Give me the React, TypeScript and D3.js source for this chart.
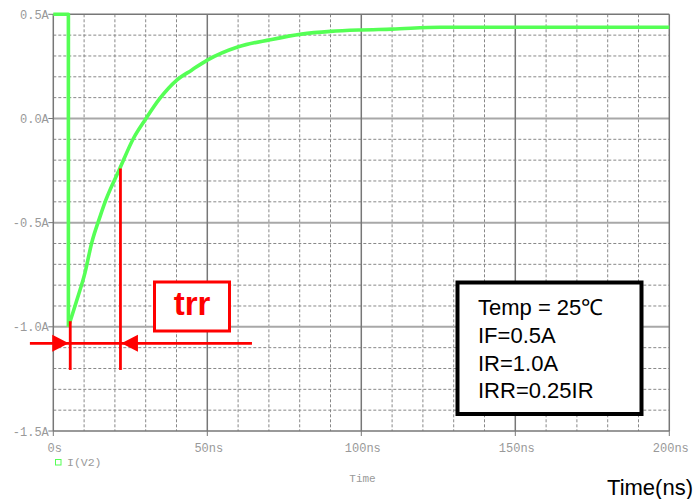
import React from "react";
import * as d3 from "d3";

// ---- Data ----
const timeNs = [0, 4.9, 4.9, 7.6, 10.3, 12.5, 15.2, 17.1, 21.6, 26, 30.1, 34.6, 40.1, 44.9, 50, 60.1, 70.4, 80.6, 90, 100, 110, 125.6, 200];
const currentA = [0.5, 0.5, -1.0, -0.874, -0.74, -0.595, -0.47, -0.39, -0.24, -0.096, 0.0, 0.096, 0.184, 0.232, 0.28, 0.344, 0.378, 0.405, 0.418, 0.425, 0.429, 0.438, 0.438];

const xTicks = [0, 50, 100, 150, 200];
const xTickLabels = ["0s", "50ns", "100ns", "150ns", "200ns"];
const yTicks = [0.5, 0.0, -0.5, -1.0, -1.5];
const yTickLabels = ["0.5A", "0.0A", "-0.5A", "-1.0A", "-1.5A"];
const xMinor = d3.range(10, 200, 10).filter((v) => v % 50 !== 0);
const yMinor = d3.range(-14, 5, 1).filter((v) => v % 5 !== 0).map((v) => v / 10);

// trr annotation (data units)
const trrStart = 5.5;
const trrEnd = 21.8;
const trrLevel = -1.079;
const trrMarkTop1 = -0.973;
const trrMarkTop2 = -0.24;
const trrMarkBottom = -1.207;
const arrowLeftFrom = -7.6;
const arrowRightFrom = 64.5;

const infoLines = ["Temp = 25\u2103", "IF=0.5A", "IR=1.0A", "IRR=0.25IR"];
const legendLabel = "I(V2)";

export default function App() {
  const x = d3.scaleLinear().domain([0, 200]).range([53.3, 669.3]);
  const y = d3.scaleLinear().domain([-1.5, 0.5]).range([431, 14.3]);
  const pts: [number, number][] = timeNs.map((t, i) => [t, currentA[i]]);
  const stepPts = pts.slice(0, 3);
  const recPts = pts.slice(2);
  const lineLin = d3
    .line<[number, number]>()
    .x((d) => x(d[0]))
    .y((d) => y(d[1]))
    .curve(d3.curveLinear);
  const lineSmooth = d3
    .line<[number, number]>()
    .x((d) => x(d[0]))
    .y((d) => y(d[1]))
    .curve(d3.curveMonotoneX);

  const mono = "'Liberation Mono', 'Courier New', monospace";
  const sans = "'Liberation Sans', Arial, sans-serif";
  const gridDark = "#777";
  const tickGray = "#999";
  const red = "#ff0000";
  const green = "#55ff55";
  const yL = y(trrLevel);

  return (
    <svg width={700} height={499} style={{ position: "absolute", left: 0, top: 0, background: "#fff" }}>
      {/* minor dashed grid */}
      {xMinor.map((v) => (
        <line key={"xm" + v} x1={x(v)} x2={x(v)} y1={y(0.5)} y2={y(-1.5)} stroke="#888" strokeWidth={1} strokeDasharray="3,2" />
      ))}
      {yMinor.map((v) => (
        <line key={"ym" + v} x1={x(0)} x2={x(200)} y1={y(v)} y2={y(v)} stroke="#888" strokeWidth={1} strokeDasharray="3,2" />
      ))}
      {/* major horizontal lines */}
      {[0, -0.5, -1.0].map((v) => (
        <line key={"ymaj" + v} x1={x(0)} x2={x(200)} y1={y(v)} y2={y(v)} stroke="#a8a8a8" strokeWidth={2} />
      ))}
      {/* major vertical lines */}
      {[50, 100, 150].map((v) => (
        <line key={"xmaj" + v} x1={x(v)} x2={x(v)} y1={y(0.5)} y2={y(-1.5)} stroke={gridDark} strokeWidth={1.5} />
      ))}
      {/* frame */}
      <line x1={x(0)} x2={x(200)} y1={y(0.5)} y2={y(0.5)} stroke={gridDark} strokeWidth={1.5} />
      <line x1={x(200)} x2={x(200)} y1={y(0.5)} y2={y(-1.5)} stroke={gridDark} strokeWidth={1.5} />
      <line x1={x(0)} x2={x(200)} y1={y(-1.5)} y2={y(-1.5)} stroke={gridDark} strokeWidth={1.5} />
      <line x1={x(0)} x2={x(0)} y1={y(0.5)} y2={y(-1.5)} stroke={gridDark} strokeWidth={1.5} />

      {/* ticks */}
      {yTicks.map((v, i) => (
        <g key={"yt" + v}>
          <line x1={x(0) - 5} x2={x(0)} y1={y(v)} y2={y(v)} stroke={gridDark} strokeWidth={1} />
          <text x={x(0) - 4.5} y={y(v) + 4.5} textAnchor="end" fontFamily={mono} fontSize={12} fill={tickGray}>
            {yTickLabels[i]}
          </text>
        </g>
      ))}
      {xTicks.map((v, i) => (
        <g key={"xt" + v}>
          <line x1={x(v)} x2={x(v)} y1={y(-1.5)} y2={y(-1.5) + 5} stroke={gridDark} strokeWidth={1} />
          <text x={x(v) + 1.5} y={451.5} textAnchor="middle" fontFamily={mono} fontSize={12} fill={tickGray}>
            {xTickLabels[i]}
          </text>
        </g>
      ))}
      <text x={362.5} y={482} textAnchor="middle" fontFamily={mono} fontSize={11} fill={tickGray}>
        Time
      </text>

      {/* legend */}
      <rect x={55.5} y={459.5} width={5.5} height={5.5} fill="none" stroke={green} strokeWidth={1} />
      <text x={67} y={466} fontFamily={mono} fontSize={11.5} fill={tickGray}>
        {legendLabel}
      </text>

      {/* curve */}
      <path d={lineLin(stepPts) || ""} fill="none" stroke={green} strokeWidth={3.6} strokeLinejoin="round" />
      <path d={lineSmooth(recPts) || ""} fill="none" stroke={green} strokeWidth={3.6} strokeLinejoin="round" />

      {/* trr annotation */}
      <line x1={x(trrStart)} x2={x(trrStart)} y1={y(trrMarkTop1)} y2={y(trrMarkBottom)} stroke={red} strokeWidth={2.8} />
      <line x1={x(trrEnd)} x2={x(trrEnd)} y1={y(trrMarkTop2)} y2={y(trrMarkBottom)} stroke={red} strokeWidth={2.8} />
      <line x1={x(arrowLeftFrom)} x2={x(arrowRightFrom)} y1={yL} y2={yL} stroke={red} strokeWidth={2.8} />
      <path
        d={`M${x(trrStart) - 1.5},${yL} L${x(trrStart) - 18},${yL - 8.5} L${x(trrStart) - 18},${yL + 8.5} Z`}
        fill={red}
      />
      <path
        d={`M${x(trrEnd) + 1},${yL} L${x(trrEnd) + 17.5},${yL - 8.5} L${x(trrEnd) + 17.5},${yL + 8.5} Z`}
        fill={red}
      />
      <rect x={154.5} y={282} width={75} height={49} fill="#fff" stroke={red} strokeWidth={3} />
      <text x={192} y={315} textAnchor="middle" fontFamily={sans} fontWeight="bold" fontSize={33} fill={red}>
        trr
      </text>

      {/* info box */}
      <rect x={457.5} y={282.5} width={184} height={131.5} fill="#fff" stroke="#000" strokeWidth={4} />
      {infoLines.map((s, i) => (
        <text key={s} x={478} y={315 + i * 27.8} fontFamily={sans} fontSize={22} fill="#000">
          {s}
        </text>
      ))}

      <text x={693} y={495} textAnchor="end" fontFamily={sans} fontSize={22} fill="#000">
        Time(ns)
      </text>
    </svg>
  );
}
